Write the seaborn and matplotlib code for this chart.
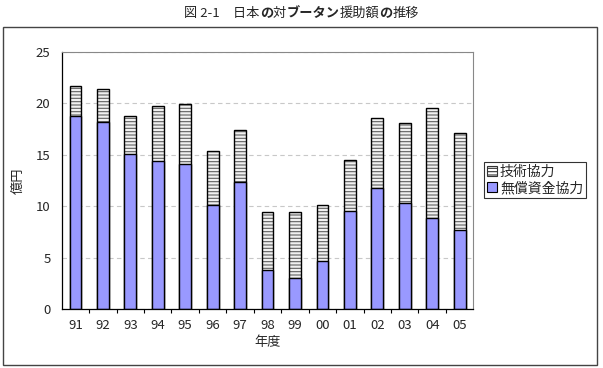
import pandas as pd
import seaborn as sns
import matplotlib.pyplot as plt
from matplotlib.patches import Patch, Rectangle
from matplotlib.offsetbox import TextArea, HPacker, AnchoredOffsetbox

years = ['91', '92', '93', '94', '95', '96', '97', '98', '99', '00', '01', '02', '03', '04', '05']
grant = [18.8, 18.2, 15.1, 14.4, 14.1, 10.1, 12.4, 3.85, 3.07, 4.69, 9.54, 11.8, 10.3, 8.83, 7.73]   # 無償資金協力
tech = [2.9, 3.2, 3.7, 5.3, 5.8, 5.3, 5.0, 5.55, 6.33, 5.46, 4.93, 6.77, 7.8, 10.74, 9.37]          # 技術協力

sns.set_style('white')
plt.rcParams['font.family'] = ['Noto Sans CJK JP', 'DejaVu Sans']
plt.rcParams['hatch.linewidth'] = 0.8

df = pd.DataFrame({'year': years, 'grant': grant, 'tech': tech})
df['total'] = df['grant'] + df['tech']

fig = plt.figure(figsize=(6.03, 3.68), dpi=100)
ax = fig.add_axes([0.1023, 0.1595, 0.6827, 0.70])

w = 0.43
blue = '#9999ff'
# 技術協力 (積み上げ合計をハッチで描いて、その上に無償資金協力を重ねる)
sns.barplot(data=df, x='year', y='total', ax=ax, color='#f0f0f0', width=w,
            edgecolor='#606060', hatch='-----', linewidth=0, saturation=1)
sns.barplot(data=df, x='year', y='total', ax=ax, fill=False, width=w,
            edgecolor='black', linewidth=1.0)
sns.barplot(data=df, x='year', y='grant', ax=ax, color=blue, width=w,
            edgecolor='black', linewidth=1.0, saturation=1)

ax.set_ylim(0, 25)
ax.set_xlim(-0.5, len(years) - 0.5)
ax.set_yticks(range(0, 26, 5))
ax.yaxis.grid(True, linestyle=(0, (4, 3)), color='#c8c8c8', linewidth=0.8)
ax.set_axisbelow(True)

ax.set_xticks([i + 0.5 for i in range(len(years) - 1)], minor=True)
ax.tick_params(axis='x', which='major', length=0, pad=7, labelsize=9.5)
ax.tick_params(axis='x', which='minor', length=3, direction='out', width=0.8, color='black', bottom=True)
ax.tick_params(axis='y', length=0, pad=8, labelsize=9.5)

for s in ['top', 'right']:
    ax.spines[s].set_color('#888888')
    ax.spines[s].set_linewidth(0.8)
for s in ['left', 'bottom']:
    ax.spines[s].set_color('black')
    ax.spines[s].set_linewidth(0.9)

ax.set_xlabel('年度', fontsize=9.5, labelpad=3)
ax.set_ylabel('億円', fontsize=9.5, labelpad=8)

handles = [Patch(facecolor='white', edgecolor='#333333', hatch='-----', linewidth=0.8),
           Patch(facecolor=blue, edgecolor='black', linewidth=0.8)]
leg = fig.legend(handles, ['技術協力', '無償資金協力'], loc='center left',
                 bbox_to_anchor=(484 / 603, 1 - 180 / 368), fontsize=10,
                 frameon=True, fancybox=False, edgecolor='black',
                 handlelength=0.75, handleheight=0.75, handletextpad=0.2,
                 borderpad=0.2, labelspacing=0.15, borderaxespad=0)
leg.get_frame().set_linewidth(0.8)

# 外枠
fig.patches.append(Rectangle((3 / 603, 3 / 368), 594 / 603, 338 / 368,
                             transform=fig.transFigure, fill=False,
                             edgecolor='#444444', linewidth=1.0))

# タイトル (一部太字)
parts = [('図 2-1　日本', 'normal'), ('の', 'bold'), ('対', 'normal'),
         ('ブータン', 'bold'), ('援助額', 'normal'), ('の', 'bold'), ('推移', 'normal')]
boxes = [TextArea(t, textprops=dict(fontsize=9.5, fontweight=fw)) for t, fw in parts]
title = AnchoredOffsetbox(loc='center', child=HPacker(children=boxes, pad=0, sep=0),
                          bbox_to_anchor=(0.5, 1 - 13 / 368),
                          bbox_transform=fig.transFigure, frameon=False, pad=0, borderpad=0)
fig.add_artist(title)

fig.savefig('out.png', dpi=100)
